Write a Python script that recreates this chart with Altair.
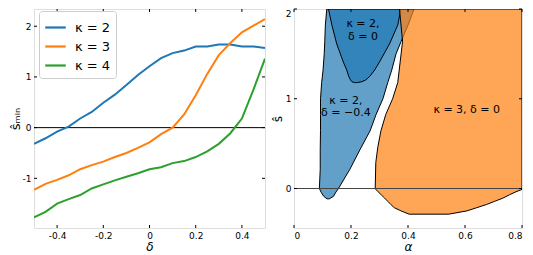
import altair as alt
import pandas as pd

# ---------------- left panel data ----------------
delta = [-0.5, -0.45, -0.4, -0.35, -0.3, -0.25, -0.2, -0.15, -0.1, -0.05, 0.0,
         0.05, 0.1, 0.15, 0.2, 0.25, 0.3, 0.35, 0.4, 0.45, 0.5]
s_min_k2 = [-0.32, -0.21, -0.08, 0.02, 0.18, 0.31, 0.49, 0.65, 0.84, 1.04, 1.21,
            1.37, 1.47, 1.52, 1.60, 1.60, 1.64, 1.64, 1.60, 1.60, 1.57]
s_min_k3 = [-1.23, -1.11, -1.03, -0.94, -0.82, -0.74, -0.67, -0.58, -0.50, -0.40, -0.29,
            -0.13, 0.0, 0.26, 0.64, 1.06, 1.43, 1.67, 1.88, 2.01, 2.14]
s_min_k4 = [-1.77, -1.66, -1.50, -1.41, -1.33, -1.20, -1.12, -1.04, -0.97, -0.90, -0.82,
            -0.78, -0.70, -0.66, -0.58, -0.47, -0.32, -0.11, 0.18, 0.75, 1.36]
kappa_labels = ["κ = 2", "κ = 3", "κ = 4"]
line_colors = ["#1f77b4", "#ff7f0e", "#2ca02c"]
left_xticks = [-0.4, -0.2, 0.0, 0.2, 0.4]
left_yticks = [-1, 0, 1, 2]

# ---------------- right panel data ----------------
# region kappa=2, delta=-0.4 (light blue): s-hat, alpha left edge, alpha right edge
lb_s = [-0.115, -0.086, -0.04, 0.0, 0.214, 0.43, 0.643, 0.825, 1.0, 1.18, 1.32, 1.5, 1.64, 1.82, 2.0]
lb_left = [0.116, 0.104, 0.095, 0.089, 0.092, 0.092, 0.093, 0.093, 0.093, 0.097, 0.102, 0.106, 0.108, 0.110, 0.115]
lb_right = [0.124, 0.139, 0.147, 0.156, 0.196, 0.231, 0.267, 0.288, 0.312, 0.329, 0.343, 0.358, 0.376, 0.400, 0.421]
# region kappa=2, delta=0 (dark blue)
db_s = [1.18, 1.19, 1.21, 1.25, 1.32, 1.41, 1.61, 1.82, 2.0]
db_left = [0.212, 0.203, 0.198, 0.192, 0.185, 0.173, 0.150, 0.133, 0.121]
db_right = [0.222, 0.238, 0.252, 0.266, 0.283, 0.300, 0.335, 0.364, 0.375]
# region kappa=3, delta=0 (orange)
or_s = [-0.286, -0.25, -0.214, -0.179, -0.143, -0.107, -0.07, -0.036, -0.01, 0.0,
        0.29, 0.46, 0.643, 0.825, 1.0, 1.18, 1.64, 2.0]
or_left = [0.404, 0.376, 0.352, 0.340, 0.329, 0.318, 0.306, 0.295, 0.287, 0.285,
           0.287, 0.294, 0.305, 0.322, 0.346, 0.364, 0.381, 0.370]
or_right = [0.543, 0.606, 0.641, 0.675, 0.704, 0.733, 0.756, 0.779, 0.8, 0.8,
            0.8, 0.8, 0.8, 0.8, 0.8, 0.8, 0.8, 0.8]
region_colors = ["#1f77b4", "#1f77b4", "#ff7f0e"]
ann_text = ["κ = 2,", "δ = 0", "κ = 2,", "δ = −0.4", "κ = 3, δ = 0"]
ann_alpha = [0.242, 0.242, 0.182, 0.182, 0.606]
ann_s = [1.83, 1.69, 0.975, 0.845, 0.88]
right_xticks = [0.0, 0.2, 0.4, 0.6, 0.8]
right_yticks = [0, 1, 2]

FONT = "DejaVu Sans"
W1, W2, H = 231, 228, 219
TK = 3

# ---------------- left panel ----------------
rows = []
for lab, vals in zip(kappa_labels, [s_min_k2, s_min_k3, s_min_k4]):
    for d, v in zip(delta, vals):
        rows.append({"delta": d, "s": v, "kappa": lab})
df_lines = pd.DataFrame(rows)

xs1 = alt.Scale(domain=[-0.5, 0.5], nice=False, zero=False)
ys1 = alt.Scale(domain=[-1.98, 2.34], nice=False, zero=False)
ax1 = alt.Axis(values=left_xticks, title="δ", ticks=False, domain=False, grid=False,
               labelExpr="datum.value == 0 ? '0' : replace(format(datum.value, '.1f'), '\u2212', '-')",
               labelFontSize=9, labelFont=FONT, labelColor="black", labelPadding=3,
               titleFontSize=12, titleFont=FONT, titleFontStyle="italic", titleFontWeight="normal",
               titlePadding=1, titleColor="black")
ay1 = alt.Axis(values=left_yticks, title="ŝₘᵢₙ", ticks=False, domain=False, grid=False,
               labelExpr="replace(format(datum.value, 'd'), '\u2212', '-')",
               labelFontSize=9, labelFont=FONT, labelColor="black", labelPadding=3,
               titleFontSize=13, titleFont=FONT, titleFontWeight="normal",
               titlePadding=0, titleColor="black")

lines = alt.Chart(df_lines).mark_line(strokeWidth=2, clip=True).encode(
    x=alt.X("delta:Q", scale=xs1, axis=ax1),
    y=alt.Y("s:Q", scale=ys1, axis=ay1),
    color=alt.Color("kappa:N", scale=alt.Scale(domain=kappa_labels, range=line_colors),
                    legend=alt.Legend(title=None, orient="none", legendX=5, legendY=2,
                                      fillColor="white", strokeColor="#cccccc", cornerRadius=3,
                                      padding=5, symbolType="stroke", symbolStrokeWidth=2.2,
                                      symbolSize=420, labelFontSize=13, labelFont=FONT,
                                      labelColor="black", rowPadding=-1, labelOffset=8)),
)
zero1 = alt.Chart(pd.DataFrame({"s": [0]})).mark_rule(color="black", strokeWidth=1).encode(
    y=alt.Y("s:Q", scale=ys1, axis=ay1))
df_xt1 = pd.DataFrame({"delta": left_xticks})
df_yt1 = pd.DataFrame({"s": left_yticks})
t_bot1 = alt.Chart(df_xt1).mark_rule(color="black").encode(
    x=alt.X("delta:Q", scale=xs1, axis=ax1), y=alt.value(H), y2=alt.value(H - TK))
t_top1 = alt.Chart(df_xt1).mark_rule(color="black").encode(
    x=alt.X("delta:Q", scale=xs1, axis=ax1), y=alt.value(0), y2=alt.value(TK))
t_lef1 = alt.Chart(df_yt1).mark_rule(color="black").encode(
    y=alt.Y("s:Q", scale=ys1, axis=ay1), x=alt.value(0), x2=alt.value(TK))
t_rig1 = alt.Chart(df_yt1).mark_rule(color="black").encode(
    y=alt.Y("s:Q", scale=ys1, axis=ay1), x=alt.value(W1), x2=alt.value(W1 - TK))

left = alt.layer(zero1, lines, t_bot1, t_top1, t_lef1, t_rig1).properties(width=W1, height=H)

# ---------------- right panel ----------------
xs2 = alt.Scale(domain=[0, 0.8], nice=False, zero=False)
ys2 = alt.Scale(domain=[-0.44, 2.0], nice=False, zero=False)
ax2 = alt.Axis(values=right_xticks, title="α", ticks=False, domain=False, grid=False,
               labelExpr="datum.value == 0 ? '0' : format(datum.value, '.1f')",
               labelFontSize=9, labelFont=FONT, labelColor="black", labelPadding=3,
               titleFontSize=12, titleFont=FONT, titleFontStyle="italic", titleFontWeight="normal",
               titlePadding=1, titleColor="black")
ay2 = alt.Axis(values=right_yticks, title="ŝ", ticks=False, domain=False, grid=False,
               labelExpr="format(datum.value, 'd')", labelFlush=True,
               labelFontSize=9, labelFont=FONT, labelColor="black", labelPadding=3,
               titleFontSize=12, titleFont=FONT, titleFontWeight="normal",
               titlePadding=1, titleColor="black")

def region(s_vals, a_left, a_right, color):
    df = pd.DataFrame({"s": s_vals, "a_left": a_left, "a_right": a_right})
    return alt.Chart(df).mark_area(orient="horizontal", color=color, fillOpacity=0.7,
                                   stroke="black", strokeWidth=1, clip=True).encode(
        y=alt.Y("s:Q", scale=ys2, axis=ay2),
        x=alt.X("a_left:Q", scale=xs2, axis=ax2),
        x2="a_right:Q",
    )

reg_lb = region(lb_s, lb_left, lb_right, region_colors[0])
reg_db = region(db_s, db_left, db_right, region_colors[1])
reg_or = region(or_s, or_left, or_right, region_colors[2])
zero2 = alt.Chart(pd.DataFrame({"s": [0]})).mark_rule(color="#444444", strokeWidth=1).encode(
    y=alt.Y("s:Q", scale=ys2, axis=ay2))
ann = alt.Chart(pd.DataFrame({"a": ann_alpha, "s": ann_s, "t": ann_text})).mark_text(
    font=FONT, fontSize=11, color="black", align="center", baseline="middle").encode(
    x=alt.X("a:Q", scale=xs2, axis=ax2), y=alt.Y("s:Q", scale=ys2, axis=ay2), text="t:N")
df_xt2 = pd.DataFrame({"a": right_xticks})
df_yt2 = pd.DataFrame({"s": right_yticks})
t_bot2 = alt.Chart(df_xt2).mark_rule(color="black").encode(
    x=alt.X("a:Q", scale=xs2, axis=ax2), y=alt.value(H), y2=alt.value(H - TK))
t_top2 = alt.Chart(df_xt2).mark_rule(color="black").encode(
    x=alt.X("a:Q", scale=xs2, axis=ax2), y=alt.value(0), y2=alt.value(TK))
t_lef2 = alt.Chart(df_yt2).mark_rule(color="black").encode(
    y=alt.Y("s:Q", scale=ys2, axis=ay2), x=alt.value(0), x2=alt.value(TK))
t_rig2 = alt.Chart(df_yt2).mark_rule(color="black").encode(
    y=alt.Y("s:Q", scale=ys2, axis=ay2), x=alt.value(W2), x2=alt.value(W2 - TK))

right = alt.layer(reg_lb, reg_db, reg_or, zero2, ann, t_bot2, t_top2, t_lef2, t_rig2).properties(
    width=W2, height=H)

chart = alt.hconcat(left, right, spacing=4).properties(
    padding={"left": 0, "top": 0, "right": 0, "bottom": 0}
).configure_view(stroke="#222222", strokeWidth=1).configure(background="white")

chart.save("out.html", embed_options={"renderer": "svg", "actions": False})
